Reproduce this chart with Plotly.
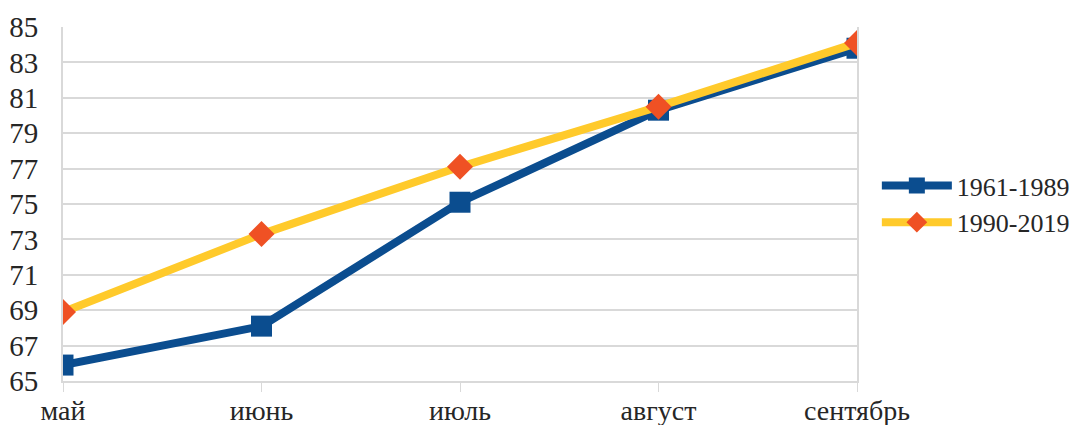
import plotly.graph_objects as go

months = ["май", "июнь", "июль", "август", "сентябрь"]
period_1961_1989 = [65.9, 68.1, 75.1, 80.3, 83.8]
period_1990_2019 = [68.9, 73.3, 77.1, 80.5, 84.1]
y_ticks = list(range(65, 86, 2))

FONT = "Liberation Serif, Times New Roman, serif"
GRID = "#D9D9D9"
TEXT = "#262626"

fig = go.Figure()
fig.add_trace(go.Scatter(
    x=months, y=period_1961_1989, name="1961-1989", mode="lines+markers",
    line=dict(color="#0B4D8F", width=8),
    marker=dict(symbol="square", size=21, color="#0B4D8F"),
))
fig.add_trace(go.Scatter(
    x=months, y=period_1990_2019, name="1990-2019", mode="lines+markers",
    line=dict(color="#FFCA2B", width=8),
    marker=dict(symbol="diamond", size=20, color="#EF5124"),
))

fig.update_layout(
    width=1076, height=425,
    margin=dict(l=63, r=219, t=27, b=44, autoexpand=False),
    paper_bgcolor="white", plot_bgcolor="white",
    font=dict(family=FONT, size=26, color=TEXT),
    legend=dict(
        x=1.025, y=0.5, xanchor="left", yanchor="middle",
        font=dict(family=FONT, size=26, color=TEXT),
        tracegroupgap=0, itemwidth=70,
    ),
    xaxis=dict(
        type="category", range=[0, 4], automargin=False,
        showgrid=False, showline=True, linecolor=GRID, linewidth=2,
        ticks="outside", ticklen=9, tickcolor=GRID, tickwidth=1,
        tickfont=dict(family=FONT, size=28, color=TEXT),
        ticklabelstandoff=-6,
    ),
    yaxis=dict(
        range=[65, 85], tickvals=y_ticks, automargin=False,
        showgrid=True, gridcolor=GRID, gridwidth=2,
        showline=True, mirror=True, linecolor=GRID, linewidth=2,
        zeroline=False, ticks="",
        tickfont=dict(family=FONT, size=29, color=TEXT),
        ticklabelstandoff=17,
    ),
)

fig.write_html("out.html")
